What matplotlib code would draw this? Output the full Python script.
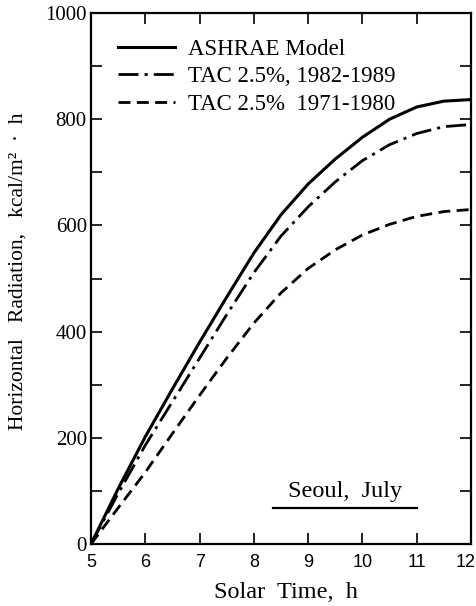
import matplotlib
matplotlib.use("Agg")
import matplotlib.pyplot as plt
import matplotlib.transforms as mtransforms
from matplotlib.ticker import MultipleLocator, FixedLocator

hours = [5, 5.5, 6, 6.5, 7, 7.5, 8, 8.5, 9, 9.5, 10, 10.5, 11, 11.5, 12]
ashrae = [0, 104, 202, 292, 380, 465, 548, 620, 678, 725, 766, 800, 823, 834, 837]
tac_8289 = [0, 95, 186, 268, 350, 432, 511, 580, 635, 682, 722, 752, 773, 786, 790]
tac_7180 = [0, 68, 135, 208, 280, 350, 416, 473, 519, 554, 582, 602, 617, 626, 630]

labels = ["ASHRAE Model", "TAC 2.5%, 1982-1989", "TAC 2.5%  1971-1980"]
x_ticks = [5, 6, 7, 8, 9, 10, 11, 12]
y_ticks = [0, 200, 400, 600, 800, 1000]

serif = ["Liberation Serif", "DejaVu Serif"]
sans = ["Liberation Sans", "DejaVu Sans"]

fig = plt.figure(figsize=(4.77, 6.06), dpi=100)
ax = fig.add_axes([91/477, 1-544/606, 380/477, 531/606])

ax.plot(hours, ashrae, color="black", lw=2.2, ls="-", label=labels[0])
ax.plot(hours, tac_8289, color="black", lw=2.0, dashes=(7.2, 2.2, 1.1, 2.2), label=labels[1])
ax.plot(hours, tac_7180, color="black", lw=2.0, dashes=(4.3, 2.3), label=labels[2])

ax.set_xlim(5, 12)
ax.set_ylim(0, 1000)
ax.xaxis.set_major_locator(FixedLocator(x_ticks))
ax.yaxis.set_major_locator(FixedLocator(y_ticks))
ax.yaxis.set_minor_locator(MultipleLocator(100))
ax.tick_params(which="both", direction="in", top=True, right=True, width=1.2, length=8)
ax.tick_params(axis="y", pad=3)
ax.tick_params(axis="x", pad=7)
for s in ax.spines.values():
    s.set_linewidth(1.6)

ax.set_xticklabels([str(t) for t in x_ticks], fontfamily=sans, fontsize=13)
ax.set_yticklabels([str(t) for t in y_ticks], fontfamily=serif, fontsize=15)
last = ax.get_xticklabels()[-1]
last.set_transform(last.get_transform() + mtransforms.ScaledTranslation(-5/100, 0, fig.dpi_scale_trans))

leg = ax.legend(loc="upper left", bbox_to_anchor=(0.07, 0.952), frameon=False,
                borderpad=0, borderaxespad=0, handlelength=2.5, handletextpad=0.57,
                labelspacing=0.3, prop={"family": serif, "size": 16.5})

ax.text(9.68, 98, "Seoul,  July", ha="center", va="center", fontfamily=serif, fontsize=17.5)
ax.plot([8.35, 11.0], [68, 68], color="black", lw=1.6)

fig.text(18/477, 1-271/606, "Horizontal   Radiation,   kcal/m²  ·  h", rotation=90,
         ha="center", va="center", fontfamily=serif, fontsize=15.5)
fig.text(286/477, 1-593/606, "Solar  Time,  h", ha="center", va="center",
         fontfamily=serif, fontsize=17.5)

fig.savefig("out.png", dpi=100)
